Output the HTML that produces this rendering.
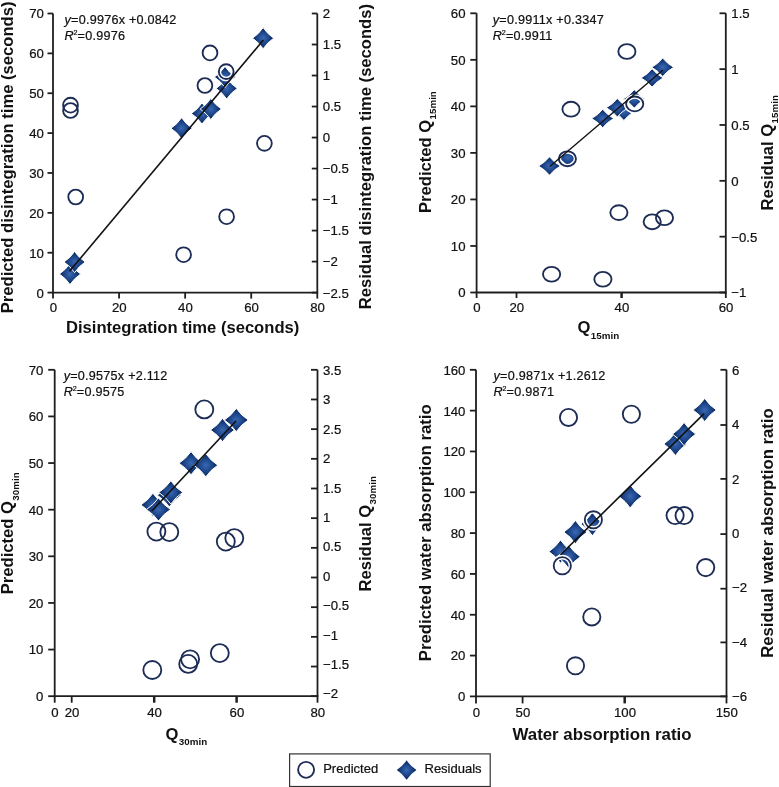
<!DOCTYPE html><html><head><meta charset="utf-8"><style>html,body{margin:0;padding:0;background:#fff;width:779px;height:787px;overflow:hidden}svg text{font-family:"Liberation Sans", sans-serif}</style></head><body><svg width="779" height="787" viewBox="0 0 779 787" style="position:absolute;left:0;top:0;will-change:transform" font-family='"Liberation Sans", sans-serif' fill="#111">
<defs><radialGradient id="dg" cx="0.5" cy="0.5" r="0.5"><stop offset="0" stop-color="#3a69b0"/><stop offset="0.35" stop-color="#26519a"/><stop offset="0.7" stop-color="#153a77"/><stop offset="1" stop-color="#0a1d50"/></radialGradient></defs>
<rect width="779" height="787" fill="#fff"/>
<line x1="53" y1="13.5" x2="53" y2="292.6" stroke="#1e1e1e" stroke-width="1.8"/>
<line x1="52.1" y1="292.6" x2="318.2" y2="292.6" stroke="#1e1e1e" stroke-width="1.8"/>
<line x1="317.3" y1="13.5" x2="317.3" y2="292.6" stroke="#1e1e1e" stroke-width="1.8"/>
<line x1="47.5" y1="13.5" x2="53" y2="13.5" stroke="#1e1e1e" stroke-width="1.8"/>
<text x="43.8" y="18.4" font-size="13.2" text-anchor="end" font-weight="normal" stroke="#111" stroke-width="0.22"  >70</text>
<line x1="47.5" y1="53.371428571428574" x2="53" y2="53.371428571428574" stroke="#1e1e1e" stroke-width="1.8"/>
<text x="43.8" y="58.27142857142857" font-size="13.2" text-anchor="end" font-weight="normal" stroke="#111" stroke-width="0.22"  >60</text>
<line x1="47.5" y1="93.24285714285715" x2="53" y2="93.24285714285715" stroke="#1e1e1e" stroke-width="1.8"/>
<text x="43.8" y="98.14285714285715" font-size="13.2" text-anchor="end" font-weight="normal" stroke="#111" stroke-width="0.22"  >50</text>
<line x1="47.5" y1="133.11428571428573" x2="53" y2="133.11428571428573" stroke="#1e1e1e" stroke-width="1.8"/>
<text x="43.8" y="138.01428571428573" font-size="13.2" text-anchor="end" font-weight="normal" stroke="#111" stroke-width="0.22"  >40</text>
<line x1="47.5" y1="172.9857142857143" x2="53" y2="172.9857142857143" stroke="#1e1e1e" stroke-width="1.8"/>
<text x="43.8" y="177.8857142857143" font-size="13.2" text-anchor="end" font-weight="normal" stroke="#111" stroke-width="0.22"  >30</text>
<line x1="47.5" y1="212.85714285714286" x2="53" y2="212.85714285714286" stroke="#1e1e1e" stroke-width="1.8"/>
<text x="43.8" y="217.75714285714287" font-size="13.2" text-anchor="end" font-weight="normal" stroke="#111" stroke-width="0.22"  >20</text>
<line x1="47.5" y1="252.72857142857146" x2="53" y2="252.72857142857146" stroke="#1e1e1e" stroke-width="1.8"/>
<text x="43.8" y="257.62857142857143" font-size="13.2" text-anchor="end" font-weight="normal" stroke="#111" stroke-width="0.22"  >10</text>
<line x1="47.5" y1="292.6" x2="53" y2="292.6" stroke="#1e1e1e" stroke-width="1.8"/>
<text x="43.8" y="297.5" font-size="13.2" text-anchor="end" font-weight="normal" stroke="#111" stroke-width="0.22"  >0</text>
<line x1="311.8" y1="13.5" x2="317.3" y2="13.5" stroke="#1e1e1e" stroke-width="1.8"/>
<text x="322.8" y="18.4" font-size="13.2" text-anchor="start" font-weight="normal" stroke="#111" stroke-width="0.22"  >2</text>
<line x1="311.8" y1="44.51111111111111" x2="317.3" y2="44.51111111111111" stroke="#1e1e1e" stroke-width="1.8"/>
<text x="322.8" y="49.41111111111111" font-size="13.2" text-anchor="start" font-weight="normal" stroke="#111" stroke-width="0.22"  >1.5</text>
<line x1="311.8" y1="75.52222222222223" x2="317.3" y2="75.52222222222223" stroke="#1e1e1e" stroke-width="1.8"/>
<text x="322.8" y="80.42222222222223" font-size="13.2" text-anchor="start" font-weight="normal" stroke="#111" stroke-width="0.22"  >1</text>
<line x1="311.8" y1="106.53333333333335" x2="317.3" y2="106.53333333333335" stroke="#1e1e1e" stroke-width="1.8"/>
<text x="322.8" y="111.43333333333335" font-size="13.2" text-anchor="start" font-weight="normal" stroke="#111" stroke-width="0.22"  >0.5</text>
<line x1="311.8" y1="137.54444444444445" x2="317.3" y2="137.54444444444445" stroke="#1e1e1e" stroke-width="1.8"/>
<text x="322.8" y="142.44444444444446" font-size="13.2" text-anchor="start" font-weight="normal" stroke="#111" stroke-width="0.22"  >0</text>
<line x1="311.8" y1="168.55555555555554" x2="317.3" y2="168.55555555555554" stroke="#1e1e1e" stroke-width="1.8"/>
<text x="322.8" y="173.45555555555555" font-size="13.2" text-anchor="start" font-weight="normal" stroke="#111" stroke-width="0.22"  >−0.5</text>
<line x1="311.8" y1="199.5666666666667" x2="317.3" y2="199.5666666666667" stroke="#1e1e1e" stroke-width="1.8"/>
<text x="322.8" y="204.4666666666667" font-size="13.2" text-anchor="start" font-weight="normal" stroke="#111" stroke-width="0.22"  >−1</text>
<line x1="311.8" y1="230.5777777777778" x2="317.3" y2="230.5777777777778" stroke="#1e1e1e" stroke-width="1.8"/>
<text x="322.8" y="235.47777777777782" font-size="13.2" text-anchor="start" font-weight="normal" stroke="#111" stroke-width="0.22"  >−1.5</text>
<line x1="311.8" y1="261.5888888888889" x2="317.3" y2="261.5888888888889" stroke="#1e1e1e" stroke-width="1.8"/>
<text x="322.8" y="266.4888888888889" font-size="13.2" text-anchor="start" font-weight="normal" stroke="#111" stroke-width="0.22"  >−2</text>
<line x1="311.8" y1="292.6" x2="317.3" y2="292.6" stroke="#1e1e1e" stroke-width="1.8"/>
<text x="322.8" y="297.5" font-size="13.2" text-anchor="start" font-weight="normal" stroke="#111" stroke-width="0.22"  >−2.5</text>
<line x1="53.0" y1="292.6" x2="53.0" y2="298.6" stroke="#1e1e1e" stroke-width="1.8"/>
<text x="53.3" y="312.1" font-size="13.2" text-anchor="middle" font-weight="normal" stroke="#111" stroke-width="0.22"  >0</text>
<line x1="119.075" y1="292.6" x2="119.075" y2="298.6" stroke="#1e1e1e" stroke-width="1.8"/>
<text x="119.375" y="312.1" font-size="13.2" text-anchor="middle" font-weight="normal" stroke="#111" stroke-width="0.22"  >20</text>
<line x1="185.15" y1="292.6" x2="185.15" y2="298.6" stroke="#1e1e1e" stroke-width="1.8"/>
<text x="185.45000000000002" y="312.1" font-size="13.2" text-anchor="middle" font-weight="normal" stroke="#111" stroke-width="0.22"  >40</text>
<line x1="251.22500000000002" y1="292.6" x2="251.22500000000002" y2="298.6" stroke="#1e1e1e" stroke-width="1.8"/>
<text x="251.52500000000003" y="312.1" font-size="13.2" text-anchor="middle" font-weight="normal" stroke="#111" stroke-width="0.22"  >60</text>
<line x1="317.3" y1="292.6" x2="317.3" y2="298.6" stroke="#1e1e1e" stroke-width="1.8"/>
<text x="317.6" y="312.1" font-size="13.2" text-anchor="middle" font-weight="normal" stroke="#111" stroke-width="0.22"  >80</text>
<text x="64.5" y="23.7" font-size="12.6" text-anchor="start" font-weight="normal" stroke="#111" stroke-width="0.22"  letter-spacing="0.25"><tspan font-style="italic">y</tspan>=0.9976x +0.0842</text>
<text x="64.5" y="39.7" font-size="12.6" text-anchor="start" font-weight="normal" stroke="#111" stroke-width="0.22"  letter-spacing="0.25"><tspan font-style="italic">R</tspan><tspan font-size="7.2" dx="-0.3" dy="-4.6">2</tspan><tspan dx="-0.2" dy="4.6">=0.9976</tspan></text>
<path d="M70,263.4 Q74.24,269.76 80.6,274 Q74.24,278.24 70,284.6 Q65.76,278.24 59.4,274 Q65.76,269.76 70,263.4 Z" fill="url(#dg)" stroke="#fff" stroke-width="1.0"/>
<path d="M74.6,251.4 Q78.83999999999999,257.76 85.19999999999999,262 Q78.83999999999999,266.24 74.6,272.6 Q70.36,266.24 63.99999999999999,262 Q70.36,257.76 74.6,251.4 Z" fill="url(#dg)" stroke="#fff" stroke-width="1.0"/>
<path d="M181.6,117.70000000000002 Q185.84,124.06000000000002 192.2,128.3 Q185.84,132.54000000000002 181.6,138.9 Q177.35999999999999,132.54000000000002 171.0,128.3 Q177.35999999999999,124.06000000000002 181.6,117.70000000000002 Z" fill="url(#dg)" stroke="#fff" stroke-width="1.0"/>
<path d="M202,102.9 Q206.24,109.26 212.6,113.5 Q206.24,117.74 202,124.1 Q197.76,117.74 191.4,113.5 Q197.76,109.26 202,102.9 Z" fill="url(#dg)" stroke="#fff" stroke-width="1.0"/>
<path d="M210.8,98.4 Q215.04000000000002,104.76 221.4,109 Q215.04000000000002,113.24 210.8,119.6 Q206.56,113.24 200.20000000000002,109 Q206.56,104.76 210.8,98.4 Z" fill="url(#dg)" stroke="#fff" stroke-width="1.0"/>
<path d="M226.7,77.80000000000001 Q230.94,84.16000000000001 237.29999999999998,88.4 Q230.94,92.64 226.7,99.0 Q222.45999999999998,92.64 216.1,88.4 Q222.45999999999998,84.16000000000001 226.7,77.80000000000001 Z" fill="url(#dg)" stroke="#fff" stroke-width="1.0"/>
<path d="M225,66.4 Q229.24,72.76 235.6,77 Q229.24,81.24 225,87.6 Q220.76,81.24 214.4,77 Q220.76,72.76 225,66.4 Z" fill="url(#dg)" stroke="#fff" stroke-width="1.0"/>
<path d="M263.1,27.6 Q267.34000000000003,33.96 273.70000000000005,38.2 Q267.34000000000003,42.440000000000005 263.1,48.800000000000004 Q258.86,42.440000000000005 252.50000000000003,38.2 Q258.86,33.96 263.1,27.6 Z" fill="url(#dg)" stroke="#fff" stroke-width="1.0"/>
<ellipse cx="70.5" cy="105.2" rx="7.4" ry="7.4" fill="none" stroke="#fff" stroke-width="4.65"/>
<ellipse cx="70.5" cy="110.5" rx="7.4" ry="7.4" fill="none" stroke="#fff" stroke-width="4.65"/>
<ellipse cx="75.7" cy="197" rx="7.4" ry="7.4" fill="none" stroke="#fff" stroke-width="4.65"/>
<ellipse cx="183.6" cy="254.7" rx="7.4" ry="7.4" fill="none" stroke="#fff" stroke-width="4.65"/>
<ellipse cx="204.9" cy="85.5" rx="7.4" ry="7.4" fill="none" stroke="#fff" stroke-width="4.65"/>
<ellipse cx="210" cy="52.9" rx="7.4" ry="7.4" fill="none" stroke="#fff" stroke-width="4.65"/>
<ellipse cx="226.2" cy="71.6" rx="7.4" ry="7.4" fill="none" stroke="#fff" stroke-width="4.65"/>
<ellipse cx="226.6" cy="216.7" rx="7.4" ry="7.4" fill="none" stroke="#fff" stroke-width="4.65"/>
<ellipse cx="264.4" cy="143.3" rx="7.4" ry="7.4" fill="none" stroke="#fff" stroke-width="4.65"/>
<ellipse cx="70.5" cy="105.2" rx="7.4" ry="7.4" fill="none" stroke="#1d2c55" stroke-width="1.85"/>
<ellipse cx="70.5" cy="110.5" rx="7.4" ry="7.4" fill="none" stroke="#1d2c55" stroke-width="1.85"/>
<ellipse cx="75.7" cy="197" rx="7.4" ry="7.4" fill="none" stroke="#1d2c55" stroke-width="1.85"/>
<ellipse cx="183.6" cy="254.7" rx="7.4" ry="7.4" fill="none" stroke="#1d2c55" stroke-width="1.85"/>
<ellipse cx="204.9" cy="85.5" rx="7.4" ry="7.4" fill="none" stroke="#1d2c55" stroke-width="1.85"/>
<ellipse cx="210" cy="52.9" rx="7.4" ry="7.4" fill="none" stroke="#1d2c55" stroke-width="1.85"/>
<ellipse cx="226.2" cy="71.6" rx="7.4" ry="7.4" fill="none" stroke="#1d2c55" stroke-width="1.85"/>
<ellipse cx="226.6" cy="216.7" rx="7.4" ry="7.4" fill="none" stroke="#1d2c55" stroke-width="1.85"/>
<ellipse cx="264.4" cy="143.3" rx="7.4" ry="7.4" fill="none" stroke="#1d2c55" stroke-width="1.85"/>
<line x1="69.5" y1="271.3" x2="263.4" y2="40" stroke="#111" stroke-width="1.6"/>
<line x1="476.6" y1="13.3" x2="476.6" y2="292.5" stroke="#1e1e1e" stroke-width="1.8"/>
<line x1="475.70000000000005" y1="292.5" x2="726.6999999999999" y2="292.5" stroke="#1e1e1e" stroke-width="1.8"/>
<line x1="725.8" y1="13.3" x2="725.8" y2="292.5" stroke="#1e1e1e" stroke-width="1.8"/>
<line x1="470.3" y1="13.3" x2="476.6" y2="13.3" stroke="#1e1e1e" stroke-width="1.8"/>
<text x="465.5" y="18.200000000000003" font-size="13.2" text-anchor="end" font-weight="normal" stroke="#111" stroke-width="0.22"  >60</text>
<line x1="470.3" y1="59.83333333333333" x2="476.6" y2="59.83333333333333" stroke="#1e1e1e" stroke-width="1.8"/>
<text x="465.5" y="64.73333333333333" font-size="13.2" text-anchor="end" font-weight="normal" stroke="#111" stroke-width="0.22"  >50</text>
<line x1="470.3" y1="106.36666666666666" x2="476.6" y2="106.36666666666666" stroke="#1e1e1e" stroke-width="1.8"/>
<text x="465.5" y="111.26666666666667" font-size="13.2" text-anchor="end" font-weight="normal" stroke="#111" stroke-width="0.22"  >40</text>
<line x1="470.3" y1="152.9" x2="476.6" y2="152.9" stroke="#1e1e1e" stroke-width="1.8"/>
<text x="465.5" y="157.8" font-size="13.2" text-anchor="end" font-weight="normal" stroke="#111" stroke-width="0.22"  >30</text>
<line x1="470.3" y1="199.43333333333334" x2="476.6" y2="199.43333333333334" stroke="#1e1e1e" stroke-width="1.8"/>
<text x="465.5" y="204.33333333333334" font-size="13.2" text-anchor="end" font-weight="normal" stroke="#111" stroke-width="0.22"  >20</text>
<line x1="470.3" y1="245.96666666666667" x2="476.6" y2="245.96666666666667" stroke="#1e1e1e" stroke-width="1.8"/>
<text x="465.5" y="250.86666666666667" font-size="13.2" text-anchor="end" font-weight="normal" stroke="#111" stroke-width="0.22"  >10</text>
<line x1="470.3" y1="292.5" x2="476.6" y2="292.5" stroke="#1e1e1e" stroke-width="1.8"/>
<text x="465.5" y="297.4" font-size="13.2" text-anchor="end" font-weight="normal" stroke="#111" stroke-width="0.22"  >0</text>
<line x1="719.5" y1="13.3" x2="725.8" y2="13.3" stroke="#1e1e1e" stroke-width="1.8"/>
<text x="731.3" y="18.200000000000003" font-size="13.2" text-anchor="start" font-weight="normal" stroke="#111" stroke-width="0.22"  >1.5</text>
<line x1="719.5" y1="69.14" x2="725.8" y2="69.14" stroke="#1e1e1e" stroke-width="1.8"/>
<text x="731.3" y="74.04" font-size="13.2" text-anchor="start" font-weight="normal" stroke="#111" stroke-width="0.22"  >1</text>
<line x1="719.5" y1="124.97999999999999" x2="725.8" y2="124.97999999999999" stroke="#1e1e1e" stroke-width="1.8"/>
<text x="731.3" y="129.88" font-size="13.2" text-anchor="start" font-weight="normal" stroke="#111" stroke-width="0.22"  >0.5</text>
<line x1="719.5" y1="180.82" x2="725.8" y2="180.82" stroke="#1e1e1e" stroke-width="1.8"/>
<text x="731.3" y="185.72" font-size="13.2" text-anchor="start" font-weight="normal" stroke="#111" stroke-width="0.22"  >0</text>
<line x1="719.5" y1="236.66" x2="725.8" y2="236.66" stroke="#1e1e1e" stroke-width="1.8"/>
<text x="731.3" y="241.56" font-size="13.2" text-anchor="start" font-weight="normal" stroke="#111" stroke-width="0.22"  >−0.5</text>
<line x1="719.5" y1="292.5" x2="725.8" y2="292.5" stroke="#1e1e1e" stroke-width="1.8"/>
<text x="731.3" y="297.4" font-size="13.2" text-anchor="start" font-weight="normal" stroke="#111" stroke-width="0.22"  >−1</text>
<line x1="476.6" y1="292.5" x2="476.6" y2="298.0" stroke="#1e1e1e" stroke-width="1.8"/>
<text x="476.90000000000003" y="311.7" font-size="13.2" text-anchor="middle" font-weight="normal" stroke="#111" stroke-width="0.22"  >0</text>
<line x1="516.5" y1="292.5" x2="516.5" y2="298.0" stroke="#1e1e1e" stroke-width="1.8"/>
<text x="516.8" y="311.7" font-size="13.2" text-anchor="middle" font-weight="normal" stroke="#111" stroke-width="0.22"  >20</text>
<line x1="621.6" y1="292.5" x2="621.6" y2="298.0" stroke="#1e1e1e" stroke-width="2.5"/>
<text x="621.9" y="311.7" font-size="13.2" text-anchor="middle" font-weight="normal" stroke="#111" stroke-width="0.22"  >40</text>
<line x1="725.8" y1="292.5" x2="725.8" y2="298.0" stroke="#1e1e1e" stroke-width="1.8"/>
<text x="726.0999999999999" y="311.7" font-size="13.2" text-anchor="middle" font-weight="normal" stroke="#111" stroke-width="0.22"  >60</text>
<text x="492.8" y="23.7" font-size="12.6" text-anchor="start" font-weight="normal" stroke="#111" stroke-width="0.22"  letter-spacing="0.25"><tspan font-style="italic">y</tspan>=0.9911x +0.3347</text>
<text x="492.8" y="39.7" font-size="12.6" text-anchor="start" font-weight="normal" stroke="#111" stroke-width="0.22"  letter-spacing="0.25"><tspan font-style="italic">R</tspan><tspan font-size="7.2" dx="-0.3" dy="-4.6">2</tspan><tspan dx="-0.2" dy="4.6">=0.9911</tspan></text>
<path d="M549.5,156.8 Q553.9,162.32 560.5,166 Q553.9,169.68 549.5,175.2 Q545.1,169.68 538.5,166 Q545.1,162.32 549.5,156.8 Z" fill="url(#dg)" stroke="#fff" stroke-width="1.0"/>
<path d="M567.9,148.3 Q572.3,153.82 578.9,157.5 Q572.3,161.18 567.9,166.7 Q563.5,161.18 556.9,157.5 Q563.5,153.82 567.9,148.3 Z" fill="url(#dg)" stroke="#fff" stroke-width="1.0"/>
<path d="M602.7,109.3 Q607.1,114.82 613.7,118.5 Q607.1,122.18 602.7,127.7 Q598.3000000000001,122.18 591.7,118.5 Q598.3000000000001,114.82 602.7,109.3 Z" fill="url(#dg)" stroke="#fff" stroke-width="1.0"/>
<path d="M623.9,102.0 Q628.3,107.52000000000001 634.9,111.2 Q628.3,114.88 623.9,120.4 Q619.5,114.88 612.9,111.2 Q619.5,107.52000000000001 623.9,102.0 Z" fill="url(#dg)" stroke="#fff" stroke-width="1.0"/>
<path d="M617.3,98.5 Q621.6999999999999,104.02000000000001 628.3,107.7 Q621.6999999999999,111.38 617.3,116.9 Q612.9,111.38 606.3,107.7 Q612.9,104.02000000000001 617.3,98.5 Z" fill="url(#dg)" stroke="#fff" stroke-width="1.0"/>
<path d="M634.3,89.7 Q638.6999999999999,95.22 645.3,98.9 Q638.6999999999999,102.58000000000001 634.3,108.10000000000001 Q629.9,102.58000000000001 623.3,98.9 Q629.9,95.22 634.3,89.7 Z" fill="url(#dg)" stroke="#fff" stroke-width="1.0"/>
<path d="M652.1,68.7 Q656.5,74.22 663.1,77.9 Q656.5,81.58000000000001 652.1,87.10000000000001 Q647.7,81.58000000000001 641.1,77.9 Q647.7,74.22 652.1,68.7 Z" fill="url(#dg)" stroke="#fff" stroke-width="1.0"/>
<path d="M662.7,58.099999999999994 Q667.1,63.62 673.7,67.3 Q667.1,70.97999999999999 662.7,76.5 Q658.3000000000001,70.97999999999999 651.7,67.3 Q658.3000000000001,63.62 662.7,58.099999999999994 Z" fill="url(#dg)" stroke="#fff" stroke-width="1.0"/>
<ellipse cx="571" cy="109.2" rx="8.6" ry="7.4" fill="none" stroke="#fff" stroke-width="4.65"/>
<ellipse cx="567.4" cy="158.8" rx="8.6" ry="7.4" fill="none" stroke="#fff" stroke-width="4.65"/>
<ellipse cx="626.9" cy="51.5" rx="8.6" ry="7.4" fill="none" stroke="#fff" stroke-width="4.65"/>
<ellipse cx="634.7" cy="103.9" rx="8.6" ry="7.4" fill="none" stroke="#fff" stroke-width="4.65"/>
<ellipse cx="551.6" cy="274.2" rx="8.6" ry="7.4" fill="none" stroke="#fff" stroke-width="4.65"/>
<ellipse cx="602.9" cy="279.3" rx="8.6" ry="7.4" fill="none" stroke="#fff" stroke-width="4.65"/>
<ellipse cx="618.9" cy="212.6" rx="8.6" ry="7.4" fill="none" stroke="#fff" stroke-width="4.65"/>
<ellipse cx="652.2" cy="221.8" rx="8.6" ry="7.4" fill="none" stroke="#fff" stroke-width="4.65"/>
<ellipse cx="664.5" cy="217.7" rx="8.6" ry="7.4" fill="none" stroke="#fff" stroke-width="4.65"/>
<ellipse cx="571" cy="109.2" rx="8.6" ry="7.4" fill="none" stroke="#1d2c55" stroke-width="1.85"/>
<ellipse cx="567.4" cy="158.8" rx="8.6" ry="7.4" fill="none" stroke="#1d2c55" stroke-width="1.85"/>
<ellipse cx="626.9" cy="51.5" rx="8.6" ry="7.4" fill="none" stroke="#1d2c55" stroke-width="1.85"/>
<ellipse cx="634.7" cy="103.9" rx="8.6" ry="7.4" fill="none" stroke="#1d2c55" stroke-width="1.85"/>
<ellipse cx="551.6" cy="274.2" rx="8.6" ry="7.4" fill="none" stroke="#1d2c55" stroke-width="1.85"/>
<ellipse cx="602.9" cy="279.3" rx="8.6" ry="7.4" fill="none" stroke="#1d2c55" stroke-width="1.85"/>
<ellipse cx="618.9" cy="212.6" rx="8.6" ry="7.4" fill="none" stroke="#1d2c55" stroke-width="1.85"/>
<ellipse cx="652.2" cy="221.8" rx="8.6" ry="7.4" fill="none" stroke="#1d2c55" stroke-width="1.85"/>
<ellipse cx="664.5" cy="217.7" rx="8.6" ry="7.4" fill="none" stroke="#1d2c55" stroke-width="1.85"/>
<line x1="549.8" y1="166.5" x2="663" y2="70" stroke="#111" stroke-width="1.35"/>
<line x1="54.7" y1="369.8" x2="54.7" y2="696.2" stroke="#1e1e1e" stroke-width="1.8"/>
<line x1="53.800000000000004" y1="696.2" x2="318.4" y2="696.2" stroke="#1e1e1e" stroke-width="1.8"/>
<line x1="317.5" y1="369.8" x2="317.5" y2="696.2" stroke="#1e1e1e" stroke-width="1.8"/>
<line x1="48.2" y1="369.8" x2="54.7" y2="369.8" stroke="#1e1e1e" stroke-width="1.8"/>
<text x="43.400000000000006" y="374.7" font-size="13.2" text-anchor="end" font-weight="normal" stroke="#111" stroke-width="0.22"  >70</text>
<line x1="48.2" y1="416.42857142857144" x2="54.7" y2="416.42857142857144" stroke="#1e1e1e" stroke-width="1.8"/>
<text x="43.400000000000006" y="421.3285714285714" font-size="13.2" text-anchor="end" font-weight="normal" stroke="#111" stroke-width="0.22"  >60</text>
<line x1="48.2" y1="463.0571428571429" x2="54.7" y2="463.0571428571429" stroke="#1e1e1e" stroke-width="1.8"/>
<text x="43.400000000000006" y="467.95714285714286" font-size="13.2" text-anchor="end" font-weight="normal" stroke="#111" stroke-width="0.22"  >50</text>
<line x1="48.2" y1="509.6857142857143" x2="54.7" y2="509.6857142857143" stroke="#1e1e1e" stroke-width="1.8"/>
<text x="43.400000000000006" y="514.5857142857143" font-size="13.2" text-anchor="end" font-weight="normal" stroke="#111" stroke-width="0.22"  >40</text>
<line x1="48.2" y1="556.3142857142857" x2="54.7" y2="556.3142857142857" stroke="#1e1e1e" stroke-width="1.8"/>
<text x="43.400000000000006" y="561.2142857142857" font-size="13.2" text-anchor="end" font-weight="normal" stroke="#111" stroke-width="0.22"  >30</text>
<line x1="48.2" y1="602.9428571428572" x2="54.7" y2="602.9428571428572" stroke="#1e1e1e" stroke-width="1.8"/>
<text x="43.400000000000006" y="607.8428571428572" font-size="13.2" text-anchor="end" font-weight="normal" stroke="#111" stroke-width="0.22"  >20</text>
<line x1="48.2" y1="649.5714285714287" x2="54.7" y2="649.5714285714287" stroke="#1e1e1e" stroke-width="1.8"/>
<text x="43.400000000000006" y="654.4714285714286" font-size="13.2" text-anchor="end" font-weight="normal" stroke="#111" stroke-width="0.22"  >10</text>
<line x1="48.2" y1="696.2" x2="54.7" y2="696.2" stroke="#1e1e1e" stroke-width="1.8"/>
<text x="43.400000000000006" y="701.1" font-size="13.2" text-anchor="end" font-weight="normal" stroke="#111" stroke-width="0.22"  >0</text>
<line x1="311.0" y1="369.8" x2="317.5" y2="369.8" stroke="#1e1e1e" stroke-width="1.8"/>
<text x="323.0" y="374.9" font-size="13.2" text-anchor="start" font-weight="normal" stroke="#111" stroke-width="0.22"  >3.5</text>
<line x1="311.0" y1="399.4727272727273" x2="317.5" y2="399.4727272727273" stroke="#1e1e1e" stroke-width="1.8"/>
<text x="323.0" y="404.31" font-size="13.2" text-anchor="start" font-weight="normal" stroke="#111" stroke-width="0.22"  >3</text>
<line x1="311.0" y1="429.1454545454546" x2="317.5" y2="429.1454545454546" stroke="#1e1e1e" stroke-width="1.8"/>
<text x="323.0" y="433.71999999999997" font-size="13.2" text-anchor="start" font-weight="normal" stroke="#111" stroke-width="0.22"  >2.5</text>
<line x1="311.0" y1="458.8181818181818" x2="317.5" y2="458.8181818181818" stroke="#1e1e1e" stroke-width="1.8"/>
<text x="323.0" y="463.13" font-size="13.2" text-anchor="start" font-weight="normal" stroke="#111" stroke-width="0.22"  >2</text>
<line x1="311.0" y1="488.4909090909091" x2="317.5" y2="488.4909090909091" stroke="#1e1e1e" stroke-width="1.8"/>
<text x="323.0" y="492.53999999999996" font-size="13.2" text-anchor="start" font-weight="normal" stroke="#111" stroke-width="0.22"  >1.5</text>
<line x1="311.0" y1="518.1636363636364" x2="317.5" y2="518.1636363636364" stroke="#1e1e1e" stroke-width="1.8"/>
<text x="323.0" y="521.95" font-size="13.2" text-anchor="start" font-weight="normal" stroke="#111" stroke-width="0.22"  >1</text>
<line x1="311.0" y1="547.8363636363637" x2="317.5" y2="547.8363636363637" stroke="#1e1e1e" stroke-width="1.8"/>
<text x="323.0" y="551.36" font-size="13.2" text-anchor="start" font-weight="normal" stroke="#111" stroke-width="0.22"  >0.5</text>
<line x1="311.0" y1="577.5090909090909" x2="317.5" y2="577.5090909090909" stroke="#1e1e1e" stroke-width="1.8"/>
<text x="323.0" y="580.77" font-size="13.2" text-anchor="start" font-weight="normal" stroke="#111" stroke-width="0.22"  >0</text>
<line x1="311.0" y1="607.1818181818182" x2="317.5" y2="607.1818181818182" stroke="#1e1e1e" stroke-width="1.8"/>
<text x="323.0" y="610.1800000000001" font-size="13.2" text-anchor="start" font-weight="normal" stroke="#111" stroke-width="0.22"  >−0.5</text>
<line x1="311.0" y1="636.8545454545455" x2="317.5" y2="636.8545454545455" stroke="#1e1e1e" stroke-width="1.8"/>
<text x="323.0" y="639.59" font-size="13.2" text-anchor="start" font-weight="normal" stroke="#111" stroke-width="0.22"  >−1</text>
<line x1="311.0" y1="666.5272727272727" x2="317.5" y2="666.5272727272727" stroke="#1e1e1e" stroke-width="1.8"/>
<text x="323.0" y="669.0" font-size="13.2" text-anchor="start" font-weight="normal" stroke="#111" stroke-width="0.22"  >−1.5</text>
<line x1="311.0" y1="696.2" x2="317.5" y2="696.2" stroke="#1e1e1e" stroke-width="1.8"/>
<text x="323.0" y="698.4100000000001" font-size="13.2" text-anchor="start" font-weight="normal" stroke="#111" stroke-width="0.22"  >−2</text>
<line x1="54.7" y1="696.2" x2="54.7" y2="702.7" stroke="#1e1e1e" stroke-width="1.8"/>
<text x="55.0" y="717.2" font-size="13.2" text-anchor="middle" font-weight="normal" stroke="#111" stroke-width="0.22"  >0</text>
<line x1="71.7" y1="696.2" x2="71.7" y2="702.7" stroke="#1e1e1e" stroke-width="1.8"/>
<text x="72.0" y="717.2" font-size="13.2" text-anchor="middle" font-weight="normal" stroke="#111" stroke-width="0.22"  >20</text>
<line x1="154.2" y1="696.2" x2="154.2" y2="702.7" stroke="#1e1e1e" stroke-width="2.5"/>
<text x="154.5" y="717.2" font-size="13.2" text-anchor="middle" font-weight="normal" stroke="#111" stroke-width="0.22"  >40</text>
<line x1="236.6" y1="696.2" x2="236.6" y2="702.7" stroke="#1e1e1e" stroke-width="2.5"/>
<text x="236.9" y="717.2" font-size="13.2" text-anchor="middle" font-weight="normal" stroke="#111" stroke-width="0.22"  >60</text>
<line x1="317.5" y1="696.2" x2="317.5" y2="702.7" stroke="#1e1e1e" stroke-width="1.8"/>
<text x="317.8" y="717.2" font-size="13.2" text-anchor="middle" font-weight="normal" stroke="#111" stroke-width="0.22"  >80</text>
<text x="63.7" y="380" font-size="12.6" text-anchor="start" font-weight="normal" stroke="#111" stroke-width="0.22"  letter-spacing="0.25"><tspan font-style="italic">y</tspan>=0.9575x +2.112</text>
<text x="63.7" y="396" font-size="12.6" text-anchor="start" font-weight="normal" stroke="#111" stroke-width="0.22"  letter-spacing="0.25"><tspan font-style="italic">R</tspan><tspan font-size="7.2" dx="-0.3" dy="-4.6">2</tspan><tspan dx="-0.2" dy="4.6">=0.9575</tspan></text>
<path d="M169.3,483.59999999999997 Q174.10000000000002,490.56 181.3,495.2 Q174.10000000000002,499.84 169.3,506.8 Q164.5,499.84 157.3,495.2 Q164.5,490.56 169.3,483.59999999999997 Z" fill="url(#dg)" stroke="#fff" stroke-width="1.0"/>
<path d="M170.8,480.79999999999995 Q175.60000000000002,487.76 182.8,492.4 Q175.60000000000002,497.03999999999996 170.8,504.0 Q166.0,497.03999999999996 158.8,492.4 Q166.0,487.76 170.8,480.79999999999995 Z" fill="url(#dg)" stroke="#fff" stroke-width="1.0"/>
<path d="M152.9,493.29999999999995 Q157.70000000000002,500.26 164.9,504.9 Q157.70000000000002,509.53999999999996 152.9,516.5 Q148.1,509.53999999999996 140.9,504.9 Q148.1,500.26 152.9,493.29999999999995 Z" fill="url(#dg)" stroke="#fff" stroke-width="1.0"/>
<path d="M158.5,497.9 Q163.3,504.86 170.5,509.5 Q163.3,514.14 158.5,521.1 Q153.7,514.14 146.5,509.5 Q153.7,504.86 158.5,497.9 Z" fill="url(#dg)" stroke="#fff" stroke-width="1.0"/>
<path d="M191,451.59999999999997 Q195.8,458.56 203,463.2 Q195.8,467.84 191,474.8 Q186.2,467.84 179,463.2 Q186.2,458.56 191,451.59999999999997 Z" fill="url(#dg)" stroke="#fff" stroke-width="1.0"/>
<path d="M205.8,453.59999999999997 Q210.60000000000002,460.56 217.8,465.2 Q210.60000000000002,469.84 205.8,476.8 Q201.0,469.84 193.8,465.2 Q201.0,460.56 205.8,453.59999999999997 Z" fill="url(#dg)" stroke="#fff" stroke-width="1.0"/>
<path d="M222.5,418.4 Q227.3,425.36 234.5,430 Q227.3,434.64 222.5,441.6 Q217.7,434.64 210.5,430 Q217.7,425.36 222.5,418.4 Z" fill="url(#dg)" stroke="#fff" stroke-width="1.0"/>
<path d="M236.3,408.4 Q241.10000000000002,415.36 248.3,420 Q241.10000000000002,424.64 236.3,431.6 Q231.5,424.64 224.3,420 Q231.5,415.36 236.3,408.4 Z" fill="url(#dg)" stroke="#fff" stroke-width="1.0"/>
<ellipse cx="204.3" cy="409.4" rx="9.0" ry="9.0" fill="none" stroke="#fff" stroke-width="4.65"/>
<ellipse cx="156.4" cy="531.6" rx="9.0" ry="9.0" fill="none" stroke="#fff" stroke-width="4.65"/>
<ellipse cx="169.3" cy="532.1" rx="9.0" ry="9.0" fill="none" stroke="#fff" stroke-width="4.65"/>
<ellipse cx="225.8" cy="541.6" rx="9.0" ry="9.0" fill="none" stroke="#fff" stroke-width="4.65"/>
<ellipse cx="234.3" cy="538.1" rx="9.0" ry="9.0" fill="none" stroke="#fff" stroke-width="4.65"/>
<ellipse cx="152.3" cy="670" rx="9.0" ry="9.0" fill="none" stroke="#fff" stroke-width="4.65"/>
<ellipse cx="190.1" cy="659.3" rx="9.0" ry="9.0" fill="none" stroke="#fff" stroke-width="4.65"/>
<ellipse cx="188.2" cy="663.9" rx="9.0" ry="9.0" fill="none" stroke="#fff" stroke-width="4.65"/>
<ellipse cx="219.8" cy="653.1" rx="9.0" ry="9.0" fill="none" stroke="#fff" stroke-width="4.65"/>
<ellipse cx="204.3" cy="409.4" rx="9.0" ry="9.0" fill="none" stroke="#1d2c55" stroke-width="1.85"/>
<ellipse cx="156.4" cy="531.6" rx="9.0" ry="9.0" fill="none" stroke="#1d2c55" stroke-width="1.85"/>
<ellipse cx="169.3" cy="532.1" rx="9.0" ry="9.0" fill="none" stroke="#1d2c55" stroke-width="1.85"/>
<ellipse cx="225.8" cy="541.6" rx="9.0" ry="9.0" fill="none" stroke="#1d2c55" stroke-width="1.85"/>
<ellipse cx="234.3" cy="538.1" rx="9.0" ry="9.0" fill="none" stroke="#1d2c55" stroke-width="1.85"/>
<ellipse cx="152.3" cy="670" rx="9.0" ry="9.0" fill="none" stroke="#1d2c55" stroke-width="1.85"/>
<ellipse cx="190.1" cy="659.3" rx="9.0" ry="9.0" fill="none" stroke="#1d2c55" stroke-width="1.85"/>
<ellipse cx="188.2" cy="663.9" rx="9.0" ry="9.0" fill="none" stroke="#1d2c55" stroke-width="1.85"/>
<ellipse cx="219.8" cy="653.1" rx="9.0" ry="9.0" fill="none" stroke="#1d2c55" stroke-width="1.85"/>
<line x1="151.8" y1="511" x2="236.3" y2="420.8" stroke="#111" stroke-width="1.6"/>
<line x1="476" y1="369.8" x2="476" y2="696.4" stroke="#1e1e1e" stroke-width="1.8"/>
<line x1="475.1" y1="696.4" x2="727.4" y2="696.4" stroke="#1e1e1e" stroke-width="1.8"/>
<line x1="726.5" y1="369.8" x2="726.5" y2="696.4" stroke="#1e1e1e" stroke-width="1.8"/>
<line x1="469.9" y1="369.8" x2="476" y2="369.8" stroke="#1e1e1e" stroke-width="1.8"/>
<text x="465.4" y="374.7" font-size="13.2" text-anchor="end" font-weight="normal" stroke="#111" stroke-width="0.22"  >160</text>
<line x1="469.9" y1="410.625" x2="476" y2="410.625" stroke="#1e1e1e" stroke-width="1.8"/>
<text x="465.4" y="415.525" font-size="13.2" text-anchor="end" font-weight="normal" stroke="#111" stroke-width="0.22"  >140</text>
<line x1="469.9" y1="451.45" x2="476" y2="451.45" stroke="#1e1e1e" stroke-width="1.8"/>
<text x="465.4" y="456.34999999999997" font-size="13.2" text-anchor="end" font-weight="normal" stroke="#111" stroke-width="0.22"  >120</text>
<line x1="469.9" y1="492.275" x2="476" y2="492.275" stroke="#1e1e1e" stroke-width="1.8"/>
<text x="465.4" y="497.17499999999995" font-size="13.2" text-anchor="end" font-weight="normal" stroke="#111" stroke-width="0.22"  >100</text>
<line x1="469.9" y1="533.1" x2="476" y2="533.1" stroke="#1e1e1e" stroke-width="1.8"/>
<text x="465.4" y="538.0" font-size="13.2" text-anchor="end" font-weight="normal" stroke="#111" stroke-width="0.22"  >80</text>
<line x1="469.9" y1="573.925" x2="476" y2="573.925" stroke="#1e1e1e" stroke-width="1.8"/>
<text x="465.4" y="578.8249999999999" font-size="13.2" text-anchor="end" font-weight="normal" stroke="#111" stroke-width="0.22"  >60</text>
<line x1="469.9" y1="614.75" x2="476" y2="614.75" stroke="#1e1e1e" stroke-width="1.8"/>
<text x="465.4" y="619.65" font-size="13.2" text-anchor="end" font-weight="normal" stroke="#111" stroke-width="0.22"  >40</text>
<line x1="469.9" y1="655.575" x2="476" y2="655.575" stroke="#1e1e1e" stroke-width="1.8"/>
<text x="465.4" y="660.475" font-size="13.2" text-anchor="end" font-weight="normal" stroke="#111" stroke-width="0.22"  >20</text>
<line x1="469.9" y1="696.4" x2="476" y2="696.4" stroke="#1e1e1e" stroke-width="1.8"/>
<text x="465.4" y="701.3" font-size="13.2" text-anchor="end" font-weight="normal" stroke="#111" stroke-width="0.22"  >0</text>
<line x1="720.4" y1="369.8" x2="726.5" y2="369.8" stroke="#1e1e1e" stroke-width="1.8"/>
<text x="732.0" y="374.7" font-size="13.2" text-anchor="start" font-weight="normal" stroke="#111" stroke-width="0.22"  >6</text>
<line x1="720.4" y1="425.0" x2="726.5" y2="425.0" stroke="#1e1e1e" stroke-width="1.8"/>
<text x="732.0" y="429.1333333333333" font-size="13.2" text-anchor="start" font-weight="normal" stroke="#111" stroke-width="0.22"  >4</text>
<line x1="720.4" y1="478.9" x2="726.5" y2="478.9" stroke="#1e1e1e" stroke-width="1.8"/>
<text x="732.0" y="483.56666666666666" font-size="13.2" text-anchor="start" font-weight="normal" stroke="#111" stroke-width="0.22"  >2</text>
<line x1="720.4" y1="534.1" x2="726.5" y2="534.1" stroke="#1e1e1e" stroke-width="1.8"/>
<text x="732.0" y="538.0" font-size="13.2" text-anchor="start" font-weight="normal" stroke="#111" stroke-width="0.22"  >0</text>
<line x1="720.4" y1="588.7" x2="726.5" y2="588.7" stroke="#1e1e1e" stroke-width="1.8"/>
<text x="732.0" y="592.4333333333333" font-size="13.2" text-anchor="start" font-weight="normal" stroke="#111" stroke-width="0.22"  >−2</text>
<line x1="720.4" y1="642.4" x2="726.5" y2="642.4" stroke="#1e1e1e" stroke-width="1.8"/>
<text x="732.0" y="646.8666666666667" font-size="13.2" text-anchor="start" font-weight="normal" stroke="#111" stroke-width="0.22"  >−4</text>
<line x1="720.4" y1="696.4" x2="726.5" y2="696.4" stroke="#1e1e1e" stroke-width="1.8"/>
<text x="732.0" y="701.3" font-size="13.2" text-anchor="start" font-weight="normal" stroke="#111" stroke-width="0.22"  >−6</text>
<line x1="476" y1="696.4" x2="476" y2="703.4" stroke="#1e1e1e" stroke-width="1.8"/>
<text x="476.3" y="717.4" font-size="13.2" text-anchor="middle" font-weight="normal" stroke="#111" stroke-width="0.22"  >0</text>
<line x1="522.6" y1="696.4" x2="522.6" y2="703.4" stroke="#1e1e1e" stroke-width="1.8"/>
<text x="522.9" y="717.4" font-size="13.2" text-anchor="middle" font-weight="normal" stroke="#111" stroke-width="0.22"  >50</text>
<line x1="624.7" y1="696.4" x2="624.7" y2="703.4" stroke="#1e1e1e" stroke-width="2.5"/>
<text x="625.0" y="717.4" font-size="13.2" text-anchor="middle" font-weight="normal" stroke="#111" stroke-width="0.22"  >100</text>
<line x1="726.5" y1="696.4" x2="726.5" y2="703.4" stroke="#1e1e1e" stroke-width="1.8"/>
<text x="726.8" y="717.4" font-size="13.2" text-anchor="middle" font-weight="normal" stroke="#111" stroke-width="0.22"  >150</text>
<text x="493.5" y="380" font-size="12.6" text-anchor="start" font-weight="normal" stroke="#111" stroke-width="0.22"  letter-spacing="0.25"><tspan font-style="italic">y</tspan>=0.9871x +1.2612</text>
<text x="493.5" y="396" font-size="12.6" text-anchor="start" font-weight="normal" stroke="#111" stroke-width="0.22"  letter-spacing="0.25"><tspan font-style="italic">R</tspan><tspan font-size="7.2" dx="-0.3" dy="-4.6">2</tspan><tspan dx="-0.2" dy="4.6">=0.9871</tspan></text>
<path d="M560.5,540.0 Q565.14,546.96 572.1,551.6 Q565.14,556.24 560.5,563.2 Q555.86,556.24 548.9,551.6 Q555.86,546.96 560.5,540.0 Z" fill="url(#dg)" stroke="#fff" stroke-width="1.0"/>
<path d="M568.7,545.1 Q573.34,552.0600000000001 580.3000000000001,556.7 Q573.34,561.34 568.7,568.3000000000001 Q564.0600000000001,561.34 557.1,556.7 Q564.0600000000001,552.0600000000001 568.7,545.1 Z" fill="url(#dg)" stroke="#fff" stroke-width="1.0"/>
<path d="M575.4,520.5 Q580.04,527.46 587.0,532.1 Q580.04,536.74 575.4,543.7 Q570.76,536.74 563.8,532.1 Q570.76,527.46 575.4,520.5 Z" fill="url(#dg)" stroke="#fff" stroke-width="1.0"/>
<path d="M592.4,512.4 Q597.04,519.36 604.0,524 Q597.04,528.64 592.4,535.6 Q587.76,528.64 580.8,524 Q587.76,519.36 592.4,512.4 Z" fill="url(#dg)" stroke="#fff" stroke-width="1.0"/>
<path d="M630.2,484.7 Q634.84,491.66 641.8000000000001,496.3 Q634.84,500.94 630.2,507.90000000000003 Q625.5600000000001,500.94 618.6,496.3 Q625.5600000000001,491.66 630.2,484.7 Z" fill="url(#dg)" stroke="#fff" stroke-width="1.0"/>
<path d="M675.4,432.29999999999995 Q680.04,439.26 687.0,443.9 Q680.04,448.53999999999996 675.4,455.5 Q670.76,448.53999999999996 663.8,443.9 Q670.76,439.26 675.4,432.29999999999995 Z" fill="url(#dg)" stroke="#fff" stroke-width="1.0"/>
<path d="M684.1,422.5 Q688.74,429.46000000000004 695.7,434.1 Q688.74,438.74 684.1,445.70000000000005 Q679.46,438.74 672.5,434.1 Q679.46,429.46000000000004 684.1,422.5 Z" fill="url(#dg)" stroke="#fff" stroke-width="1.0"/>
<path d="M704.7,398.4 Q709.34,405.36 716.3000000000001,410 Q709.34,414.64 704.7,421.6 Q700.0600000000001,414.64 693.1,410 Q700.0600000000001,405.36 704.7,398.4 Z" fill="url(#dg)" stroke="#fff" stroke-width="1.0"/>
<ellipse cx="568.5" cy="417.4" rx="8.6" ry="8.6" fill="none" stroke="#fff" stroke-width="4.65"/>
<ellipse cx="631.4" cy="414.3" rx="8.6" ry="8.6" fill="none" stroke="#fff" stroke-width="4.65"/>
<ellipse cx="675.1" cy="515.6" rx="8.6" ry="8.6" fill="none" stroke="#fff" stroke-width="4.65"/>
<ellipse cx="684.1" cy="515.6" rx="8.6" ry="8.6" fill="none" stroke="#fff" stroke-width="4.65"/>
<ellipse cx="593.4" cy="519.8" rx="8.6" ry="8.6" fill="none" stroke="#fff" stroke-width="4.65"/>
<ellipse cx="562.3" cy="565.7" rx="8.6" ry="8.6" fill="none" stroke="#fff" stroke-width="4.65"/>
<ellipse cx="591.8" cy="616.9" rx="8.6" ry="8.6" fill="none" stroke="#fff" stroke-width="4.65"/>
<ellipse cx="575.5" cy="665.8" rx="8.6" ry="8.6" fill="none" stroke="#fff" stroke-width="4.65"/>
<ellipse cx="705.7" cy="567.6" rx="8.6" ry="8.6" fill="none" stroke="#fff" stroke-width="4.65"/>
<ellipse cx="568.5" cy="417.4" rx="8.6" ry="8.6" fill="none" stroke="#1d2c55" stroke-width="1.85"/>
<ellipse cx="631.4" cy="414.3" rx="8.6" ry="8.6" fill="none" stroke="#1d2c55" stroke-width="1.85"/>
<ellipse cx="675.1" cy="515.6" rx="8.6" ry="8.6" fill="none" stroke="#1d2c55" stroke-width="1.85"/>
<ellipse cx="684.1" cy="515.6" rx="8.6" ry="8.6" fill="none" stroke="#1d2c55" stroke-width="1.85"/>
<ellipse cx="593.4" cy="519.8" rx="8.6" ry="8.6" fill="none" stroke="#1d2c55" stroke-width="1.85"/>
<ellipse cx="562.3" cy="565.7" rx="8.6" ry="8.6" fill="none" stroke="#1d2c55" stroke-width="1.85"/>
<ellipse cx="591.8" cy="616.9" rx="8.6" ry="8.6" fill="none" stroke="#1d2c55" stroke-width="1.85"/>
<ellipse cx="575.5" cy="665.8" rx="8.6" ry="8.6" fill="none" stroke="#1d2c55" stroke-width="1.85"/>
<ellipse cx="705.7" cy="567.6" rx="8.6" ry="8.6" fill="none" stroke="#1d2c55" stroke-width="1.85"/>
<line x1="560.5" y1="554.7" x2="704.1" y2="413.6" stroke="#111" stroke-width="1.6"/>
<text x="13.3" y="313.2" font-size="16.6" font-weight="bold" transform="rotate(-90 13.3 313.2)">Predicted disintegration time (seconds)</text>
<text x="371.5" y="309.2" font-size="16.6" font-weight="bold" transform="rotate(-90 371.5 309.2)">Residual disintegration time (seconds)</text>
<text x="66" y="332.8" font-size="16.6" text-anchor="start" font-weight="bold"  >Disintegration time (seconds)</text>
<text x="430.8" y="213" font-size="16.6" font-weight="bold" transform="rotate(-90 430.8 213)">Predicted Q<tspan font-size="9.8" dx="0.4" dy="5.4">15min</tspan></text>
<text x="772.9" y="210.5" font-size="16.6" font-weight="bold" transform="rotate(-90 772.9 210.5)">Residual Q<tspan font-size="9.8" dx="0.4" dy="5.4">15min</tspan></text>
<text x="577.5" y="333.1" font-size="16.6" text-anchor="start" font-weight="bold"  >Q<tspan font-size="9.8" dx="0.4" dy="5.4">15min</tspan></text>
<text x="13.3" y="594.2" font-size="16.6" font-weight="bold" transform="rotate(-90 13.3 594.2)">Predicted Q<tspan font-size="9.8" dx="0.4" dy="5.4">30min</tspan></text>
<text x="371" y="591.5" font-size="16.6" font-weight="bold" transform="rotate(-90 371 591.5)">Residual Q<tspan font-size="9.8" dx="0.4" dy="5.4">30min</tspan></text>
<text x="165.5" y="739.5" font-size="16.6" text-anchor="start" font-weight="bold"  >Q<tspan font-size="9.8" dx="0.4" dy="5.4">30min</tspan></text>
<text x="430.6" y="661.2" font-size="16.75" font-weight="bold" transform="rotate(-90 430.6 661.2)">Predicted water absorption ratio</text>
<text x="773" y="657.8" font-size="16.7" font-weight="bold" transform="rotate(-90 773 657.8)">Residual water absorption ratio</text>
<text x="512.5" y="740.4" font-size="16.85" text-anchor="start" font-weight="bold"  >Water absorption ratio</text>
<rect x="289.6" y="753.9" width="200.6" height="32.6" fill="none" stroke="#333" stroke-width="1.2"/>
<ellipse cx="306.1" cy="769.8" rx="8.0" ry="8.0" fill="none" stroke="#1d2c55" stroke-width="1.85"/>
<text x="323.2" y="773.4" font-size="13" text-anchor="start" font-weight="normal" stroke="#111" stroke-width="0.22"  >Predicted</text>
<path d="M406.6,760.3 Q410.52000000000004,766.12 416.40000000000003,770 Q410.52000000000004,773.88 406.6,779.7 Q402.68,773.88 396.8,770 Q402.68,766.12 406.6,760.3 Z" fill="url(#dg)" stroke="#fff" stroke-width="0"/>
<text x="424.5" y="773.4" font-size="13" text-anchor="start" font-weight="normal" stroke="#111" stroke-width="0.22"  >Residuals</text>
</svg></body></html>
